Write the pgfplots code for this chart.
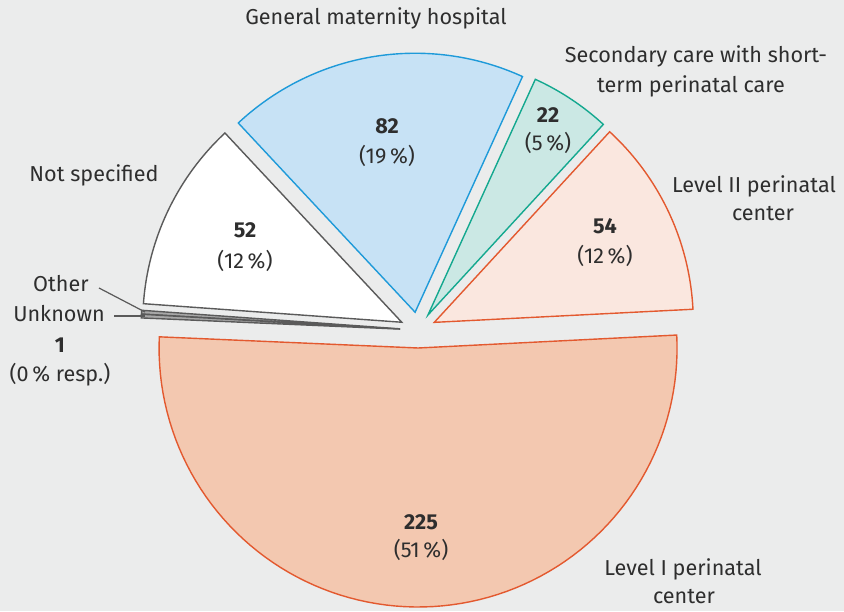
\documentclass[border=0pt]{standalone}
\usepackage{pgfplots}
\pgfplotsset{compat=1.18}
\usepackage{fontspec}
\setmainfont{Fira Sans}
\definecolor{bg}{HTML}{EBECEC}
\definecolor{txt}{HTML}{2E2E2E}
\definecolor{lIfill}{HTML}{F3C8B0}
\definecolor{lIIfill}{HTML}{FAE7DF}
\definecolor{orng}{HTML}{E3592F}
\definecolor{secfill}{HTML}{CBE8E4}
\definecolor{secline}{HTML}{14A88F}
\definecolor{genfill}{HTML}{C7E2F5}
\definecolor{genline}{HTML}{1E9AD9}
\definecolor{nsline}{HTML}{5A5A5A}
\definecolor{othfill}{HTML}{A8A8A8}
\tikzset{lbl/.style={anchor=mid, text=txt, font=\fontsize{10.8pt}{12pt}\selectfont, inner sep=0pt}}
% data (counts)
\def\vLevelII{54}
\def\vSecondary{22}
\def\vGeneral{82}
\def\vNotSpec{52}
\def\vOther{1}
\def\vUnknown{1}
\def\vLevelI{225}
\pgfmathsetmacro\total{\vLevelII+\vSecondary+\vGeneral+\vNotSpec+\vOther+\vUnknown+\vLevelI}
\def\cx{418}\def\cy{281}\def\dd{18}\def\R{259}
\xdef\cur{2.9}
\newcommand\slice[3]{%
  \pgfmathsetmacro\sA{\cur}%
  \pgfmathsetmacro\sB{\cur+#1/\total*360}%
  \pgfmathsetmacro\sM{(\sA+\sB)/2}%
  \pgfmathsetmacro\ax{\cx+\dd*cos(\sM)}%
  \pgfmathsetmacro\ay{\cy+\dd*sin(\sM)}%
  \edef\doslice{\noexpand\addplot[fill=#2, draw=#3, line width=0.7pt, line join=miter,
     domain=\sA:\sB, samples=90, variable=\noexpand\t]
     ({\ax+\R*cos(\noexpand\t)},{\ay+\R*sin(\noexpand\t)}) -- (axis cs:\ax,\ay) -- cycle;}%
  \doslice
  \xdef\cur{\sB}%
}
\begin{document}
\begin{tikzpicture}
\begin{axis}[x=0.5pt, y=0.5pt, xmin=0, xmax=844, ymin=0, ymax=611,
  hide axis, clip=false]
\fill[bg] (rel axis cs:0,0) rectangle (rel axis cs:1,1);
\coordinate (ll) at (rel axis cs:0,0);
\coordinate (ur) at (rel axis cs:1,1);
\slice{\vLevelII}{lIIfill}{orng}
\slice{\vSecondary}{secfill}{secline}
\slice{\vGeneral}{genfill}{genline}
\slice{\vNotSpec}{white}{nsline}
\slice{\vOther}{othfill}{nsline}
\slice{\vUnknown}{othfill}{nsline}
\slice{\vLevelI}{lIfill}{orng}
% leader lines
\draw[nsline, line width=0.6pt] (axis cs:99,323) -- (axis cs:145,299);
\draw[nsline, line width=0.6pt] (axis cs:114,295) -- (axis cs:145,295);
% outer labels
\node[lbl] at (axis cs:376,592) {General maternity hospital};
\node[lbl] at (axis cs:696,554) {Secondary care with short-};
\node[lbl] at (axis cs:691,524) {term perinatal care};
\node[lbl] at (axis cs:754,424) {Level II perinatal};
\node[lbl] at (axis cs:763,396) {center};
\node[lbl] at (axis cs:94,435) {Not specified};
\node[lbl] at (axis cs:61,325) {Other};
\node[lbl] at (axis cs:59,295) {Unknown};
\node[lbl] at (axis cs:60,264) {\bfseries 1};
\node[lbl] at (axis cs:60,235) {(0\,\% resp.)};
\node[lbl] at (axis cs:683,41) {Level I perinatal};
\node[lbl] at (axis cs:684,13) {center};
% inner labels
\node[lbl] at (axis cs:387,483) {\bfseries \vGeneral};
\node[lbl] at (axis cs:387,453) {(19\,\%)};
\node[lbl] at (axis cs:548,494) {\bfseries \vSecondary};
\node[lbl] at (axis cs:548,466) {(5\,\%)};
\node[lbl] at (axis cs:605,383) {\bfseries \vLevelII};
\node[lbl] at (axis cs:605,353) {(12\,\%)};
\node[lbl] at (axis cs:245,379) {\bfseries \vNotSpec};
\node[lbl] at (axis cs:245,348) {(12\,\%)};
\node[lbl] at (axis cs:421,87) {\bfseries \vLevelI};
\node[lbl] at (axis cs:421,59) {(51\,\%)};
\end{axis}
\pgfresetboundingbox
\useasboundingbox (ll) rectangle (ur);
\end{tikzpicture}
\end{document}
